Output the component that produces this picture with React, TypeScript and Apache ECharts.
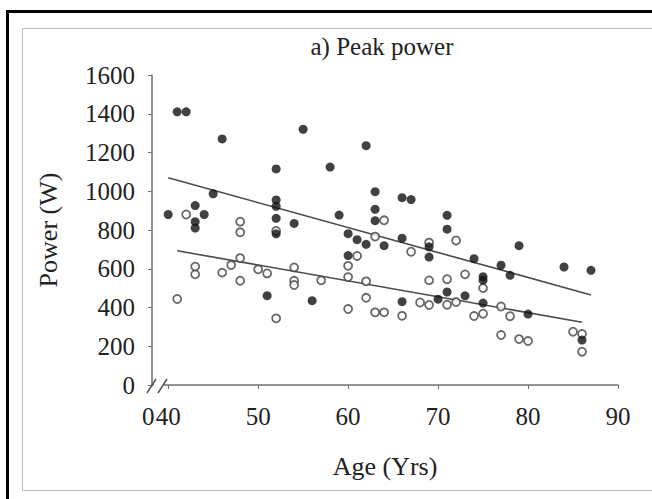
import { useEffect, useRef } from "react";
import * as echarts from "echarts";

// Filled circles
const filledAge = [41, 42, 46, 55, 62, 52, 58, 45, 63, 52, 52, 52, 40, 43, 44, 43, 43, 52, 59, 54, 63, 63, 60, 61, 62, 64, 60, 51, 56, 66, 67, 71, 71, 66, 69, 69, 74, 77, 79, 84, 87, 78, 75, 75, 71, 70, 73, 66, 75, 80, 86];
const filledPower = [1410, 1410, 1270, 1320, 1235, 1115, 1125, 987, 998, 955, 922, 860, 880, 926, 880, 843, 810, 780, 877, 834, 907, 848, 781, 750, 726, 719, 668, 461, 435, 967, 957, 876, 804, 758, 713, 660, 652, 618, 719, 609, 592, 566, 559, 541, 480, 443, 460, 430, 423, 366, 232];

// Open circles
const openAge = [42, 48, 48, 52, 64, 63, 61, 60, 60, 62, 62, 60, 63, 64, 41, 43, 43, 46, 47, 48, 48, 50, 51, 52, 54, 54, 54, 57, 67, 72, 69, 69, 71, 73, 75, 66, 68, 69, 71, 72, 74, 75, 77, 78, 77, 79, 80, 85, 86, 86];
const openPower = [880, 843, 788, 795, 850, 766, 666, 615, 557, 535, 450, 392, 375, 375, 444, 611, 571, 580, 619, 655, 538, 597, 576, 344, 607, 538, 516, 540, 688, 746, 735, 540, 546, 571, 500, 357, 426, 413, 414, 428, 356, 368, 405, 355, 258, 237, 227, 275, 263, 172];

// Regression lines (end points)
const fitFilledAge = [40, 87];
const fitFilledPower = [1070, 465];
const fitOpenAge = [41, 86];
const fitOpenPower = [693, 324];

// Axes
const xOrigin = 38.2;
const xOriginLabel = "0";
const xTickValues = [40, 50, 60, 70, 80, 90];
const xMax = 90;
const yMin = 0;
const yMax = 1600;
const yInterval = 200;

const titleText = "a) Peak power";
const xName = "Age (Yrs)";
const yName = "Power (W)";

const FONT = '"Liberation Serif", "Times New Roman", serif';

const zip = (a: number[], b: number[]) => a.map((v, i) => [v, b[i]]);

export default function App() {
  const ref = useRef<HTMLDivElement>(null);
  useEffect(() => {
    if (!ref.current) return;
    const chart = echarts.init(ref.current, null, { renderer: "svg" });
    const axisColor = "#707070";
    chart.setOption({
      animation: false,
      backgroundColor: "#ffffff",
      grid: { left: 152, right: 34, top: 75, bottom: 114 },
      xAxis: {
        type: "value",
        min: xOrigin,
        max: xMax,
        name: xName,
        nameLocation: "middle",
        nameGap: 68,
        nameTextStyle: { fontFamily: FONT, fontSize: 26, color: "#222" },
        splitLine: { show: false },
        axisLine: { lineStyle: { color: axisColor, width: 1.5 } },
        axisTick: { customValues: xTickValues, length: 4, lineStyle: { color: axisColor } },
        axisLabel: {
          customValues: xTickValues,
          formatter: (v: number) => String(Math.round(v)),
          margin: 19,
          fontFamily: FONT,
          fontSize: 25,
          color: "#222",
        },
      },
      yAxis: {
        type: "value",
        min: yMin,
        max: yMax,
        interval: yInterval,
        name: yName,
        nameLocation: "middle",
        nameGap: 91,
        nameTextStyle: { fontFamily: FONT, fontSize: 26, color: "#222" },
        splitLine: { show: false },
        axisLine: { show: true, lineStyle: { color: axisColor, width: 1.5 } },
        axisTick: { show: true, length: 4, lineStyle: { color: axisColor } },
        axisLabel: {
          margin: 17,
          fontFamily: FONT,
          fontSize: 25,
          color: "#222",
          formatter: (v: number) => String(v),
        },
      },
      series: [
        {
          type: "line",
          data: zip(fitFilledAge, fitFilledPower),
          symbol: "none",
          lineStyle: { color: "#4a4a4a", width: 1.6 },
          z: 1,
        },
        {
          type: "line",
          data: zip(fitOpenAge, fitOpenPower),
          symbol: "none",
          lineStyle: { color: "#4a4a4a", width: 1.6 },
          z: 1,
        },
        {
          type: "scatter",
          data: zip(openAge, openPower),
          symbol: "circle",
          symbolSize: 8,
          itemStyle: { color: "#ffffff", borderColor: "#444", borderWidth: 1.8 },
          z: 2,
        },
        {
          type: "scatter",
          data: zip(filledAge, filledPower),
          symbol: "circle",
          symbolSize: 9,
          itemStyle: { color: "#111" },
          z: 3,
        },
      ],
      graphic: [
        {
          type: "text",
          x: 382,
          y: 46,
          style: {
            text: titleText,
            fontFamily: FONT,
            fontSize: 25,
            fill: "#222",
            textAlign: "center",
            textVerticalAlign: "middle",
          },
        },
        {
          type: "text",
          x: 154.5,
          y: 404,
          style: {
            text: xOriginLabel,
            fontFamily: FONT,
            fontSize: 25,
            fill: "#222",
            textAlign: "right",
            textVerticalAlign: "top",
          },
        },
        { type: "rect", shape: { x: 154, y: 382, width: 10, height: 6 }, style: { fill: "#fff" }, z: 50 },
        { type: "line", shape: { x1: 147, y1: 393, x2: 156, y2: 379 }, style: { stroke: "#555", lineWidth: 1.5 }, z: 51 },
        { type: "line", shape: { x1: 158, y1: 393, x2: 167, y2: 379 }, style: { stroke: "#555", lineWidth: 1.5 }, z: 51 },
        // outer frame
        { type: "line", shape: { x1: 6, y1: 11.5, x2: 652, y2: 11.5 }, style: { stroke: "#000", lineWidth: 3 }, z: 60 },
        { type: "line", shape: { x1: 7.5, y1: 10, x2: 7.5, y2: 499 }, style: { stroke: "#000", lineWidth: 3 }, z: 60 },
        { type: "line", shape: { x1: 22.5, y1: 28.5, x2: 652, y2: 28.5 }, style: { stroke: "#bdbdbd", lineWidth: 1 }, z: 60 },
        { type: "line", shape: { x1: 22.5, y1: 28.5, x2: 22.5, y2: 490.5 }, style: { stroke: "#bdbdbd", lineWidth: 1 }, z: 60 },
        { type: "line", shape: { x1: 22.5, y1: 490.5, x2: 652, y2: 490.5 }, style: { stroke: "#bdbdbd", lineWidth: 1 }, z: 60 },
      ],
    });
    return () => chart.dispose();
  }, []);
  return (
    <div
      ref={ref}
      style={{ position: "absolute", left: 0, top: 0, width: 652, height: 499 }}
    />
  );
}
